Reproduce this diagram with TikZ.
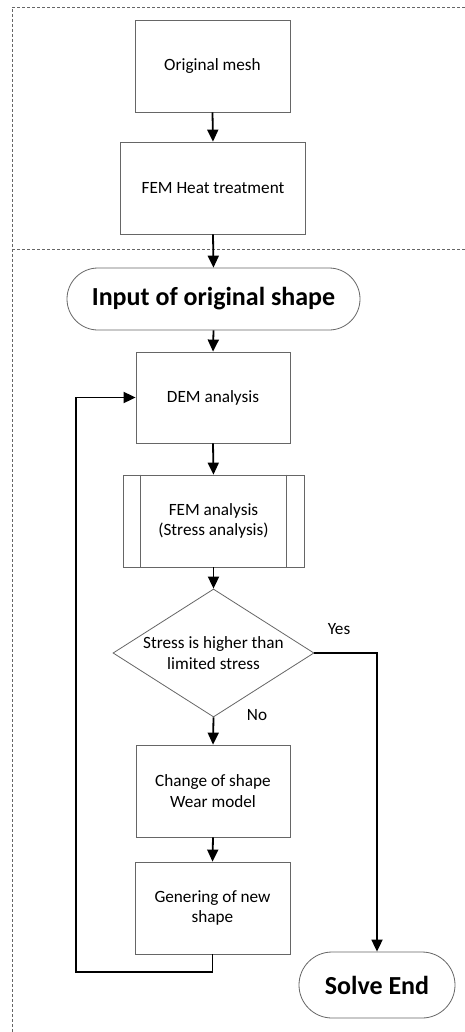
\documentclass[tikz,border=0pt]{standalone}
\usepackage{fontspec}
\setmainfont{Carlito}
\usetikzlibrary{shapes.geometric,shapes.misc,arrows.meta,calc}
\begin{document}
\begin{tikzpicture}[x=1pt,y=-1pt,
  box/.style={draw=black!60,line width=0.8pt,minimum width=154pt,minimum height=92pt,inner sep=0pt,align=center,font=\fontsize{17.2}{20.5}\selectfont},
  term/.style={draw=black!60,line width=0.8pt,rounded rectangle,inner sep=0pt,align=center},
  dec/.style={draw=black!60,line width=0.8pt,diamond,aspect=1.57,inner sep=0pt,minimum width=201pt,minimum height=128pt,align=center,font=\fontsize{17.2}{20.5}\selectfont},
  arr/.style={line width=1.8pt,-{Triangle[length=12pt,width=11pt]}},
  lbl/.style={font=\fontsize{17.2}{20.5}\selectfont},
  sep/.style={draw=black!60,line width=0.7pt,dash pattern=on 3pt off 2pt}]
\useasboundingbox (0,0) rectangle (465,1032);
\fill[white] (0,0) rectangle (465,1032);
% dashed frame
\draw[sep] (465,7) -- (12,7) -- (12,1032);
\draw[sep,line width=1pt] (12,249) -- (465,249);
% nodes
\node[box,minimum width=155pt] (orig) at (212.5,66) {Original mesh};
\node[box,minimum width=185pt] (heat) at (213,188) {FEM Heat treatment};
\node[term,minimum width=293pt,minimum height=62pt,font=\fontsize{26}{30}\selectfont\bfseries] (input) at (213.5,299) {Input of original shape};
\node[box,minimum height=91pt] (dem) at (213,397.5) {DEM analysis};
\node[box,minimum width=181pt] (fem) at (213.5,521) {FEM analysis\\(Stress analysis)};
\draw[black!60,line width=0.8pt] ($(fem.north west)+(18,0)$) -- ($(fem.south west)+(18,0)$)
  ($(fem.north east)+(-18,0)$) -- ($(fem.south east)+(-18,0)$);
\node[dec] (dia) at (213.5,653) {Stress is higher than\\limited stress};
\node[box] (change) at (213,791) {Change of shape\\Wear model};
\node[box,minimum width=155pt] (gen) at (212.5,908) {Genering of new\\shape};
\node[term,minimum width=156pt,minimum height=66pt,font=\fontsize{26}{30}\selectfont\bfseries] (solve) at (377,985) {Solve End};
\node[lbl] (yes) at (339,629) {Yes};
\node[lbl] (no) at (257,715) {No};
% connectors
\draw[arr] (orig.south) -- (heat.north);
\draw[arr] (heat.south) -- (input.north);
\draw[arr] (input.south) -- (dem.north);
\draw[arr] (dem.south) -- (fem.north);
\draw[arr] (fem.south) -- (dia.north);
\draw[arr] (dia.south) -- (change.north);
\draw[arr] (change.south) -- (gen.north);
\coordinate (lb) at (76,972);
\draw[arr] (gen.south) |- (lb) |- (dem.west);
\draw[arr] (dia.east) -| (solve.north);
\end{tikzpicture}
\end{document}
